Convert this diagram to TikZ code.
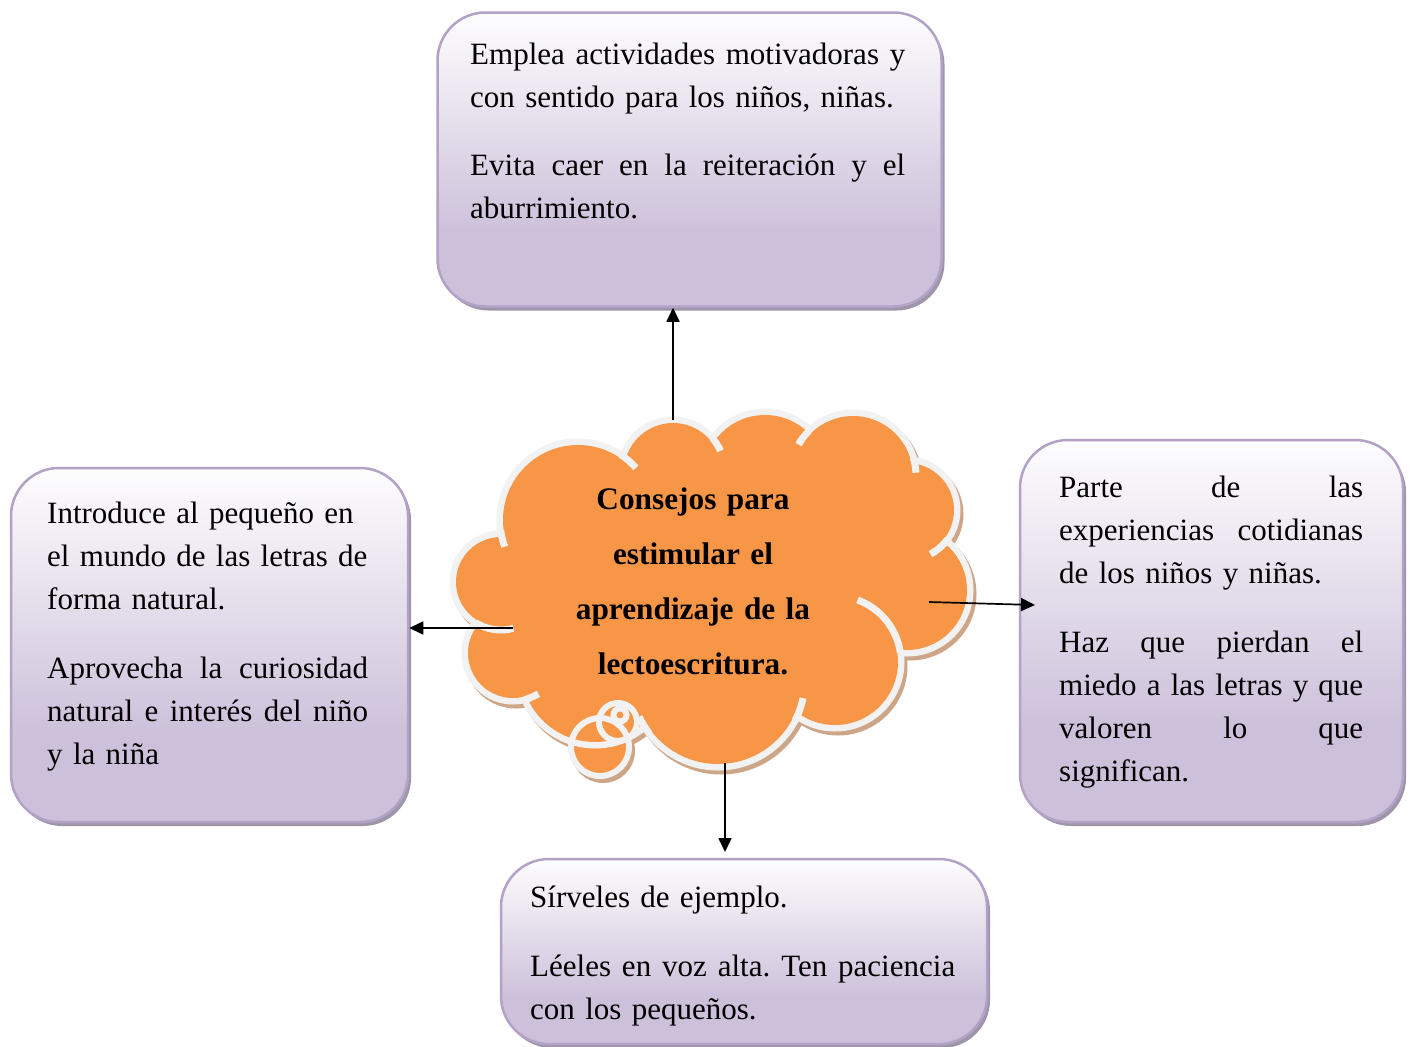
\documentclass[tikz,border=0pt]{standalone}
\usepackage{fontspec}
\setmainfont{Liberation Serif}
\usetikzlibrary{arrows.meta,shadows}
\definecolor{lav}{HTML}{CCC0DA}
\colorlet{boxtop}{white!97!lav}
\definecolor{boxline}{HTML}{B3A2C7}
\definecolor{boxshadow}{RGB}{158,150,168}
\definecolor{cloudfill}{HTML}{F79646}
\definecolor{cloudline}{HTML}{F2F2F2}
\definecolor{cloudshadow}{RGB}{205,166,136}
\pgfdeclareverticalshading{boxgrad}{100bp}{color(0bp)=(lav); color(25bp)=(lav); color(37bp)=(lav); color(75bp)=(boxtop); color(100bp)=(boxtop)}
\newcommand\jst[2]{\leavevmode\hbox to #1{#2}}
\newcommand\jw{\hskip 0.25em plus 1fil minus 0.08em\relax}
\newcommand\cloudlobes[1]{\path[#1]
  (501,582) circle[radius=45]
  (578,520) circle[radius=75]
  (673,472) circle[radius=49]
  (765,477) circle[radius=62]
  (853,476) circle[radius=60]
  (907,510) circle[radius=47]
  (907,590) circle[radius=60]
  (835,662) circle[radius=63]
  (718,680) circle[radius=84]
  (595,668) circle[radius=74]
  (513,653) circle[radius=45]
  (710,590) ellipse[x radius=180, y radius=130];}
\newcommand\tck[4]{\draw[cloudtick] (#1) ++(#2:#4) arc[start angle=#2, end angle=#3, radius=#4];}
\begin{document}
\begin{tikzpicture}[x=1pt, y=-1pt,
  boxnode/.style={rectangle, rounded corners=48pt, draw=boxline, line width=2.5pt,
    shade, shading=boxgrad, inner sep=0pt,
    drop shadow={shadow xshift=3pt, shadow yshift=-4pt, fill=boxshadow, opacity=1}},
  bodytext/.style={anchor=base west, inner sep=0pt, align=left,
    font=\frenchspacing\fontsize{31}{43}\selectfont},
  titletext/.style={anchor=base, inner sep=0pt, align=center, text width=330pt,
    font=\bfseries\fontsize{31.3}{55}\selectfont},
  arr/.style={line width=1.7pt, -{Triangle[length=14pt,width=13pt]}},
  cloudtick/.style={draw=cloudline, line width=7pt},
  bubblering/.style={draw=cloudline, line width=6pt}]
\useasboundingbox (0,0) rectangle (1414,1047);
\fill[white] (0,0) rectangle (1414,1047);

% boxes
\node[boxnode, minimum width=504pt, minimum height=294pt] (topbox) at (689.5,159.5) {};
\node[boxnode, minimum width=397pt, minimum height=354pt] (leftbox) at (209.5,645) {};
\node[boxnode, minimum width=383pt, minimum height=382pt] (rightbox) at (1211.5,631) {};
\node[boxnode, minimum width=486pt, minimum height=185pt] (botbox) at (744,951.5) {};

% cloud shadow
\begin{scope}[shift={(3,4)}]
  \cloudlobes{fill=cloudshadow, draw=cloudshadow, line width=13pt}
  \path[fill=cloudshadow, draw=cloudshadow, line width=6pt] (600,747) circle[radius=29];
\end{scope}
% bubble fill below the cloud outline
\path[fill=cloudfill] (600,747) circle[radius=29];
% cloud body
\cloudlobes{draw=cloudline, line width=13pt}
\cloudlobes{fill=cloudfill}
% inner arcs
\tck{578,520}{160}{172}{78}
\tck{578,520}{303}{318}{78}
\tck{673,472}{320}{336}{52}
\tck{853,476}{226}{210}{63}
\tck{853,476}{343}{357}{63}
\tck{907,510}{36}{62}{50}
\tck{835,662}{290}{352}{66}
\tck{718,680}{28}{12}{87}
\tck{718,680}{142}{155}{87}
\tck{513,653}{76}{58}{48}
\tck{501,582}{122}{75}{48}
% thought bubble rings
\path[bubblering] (600,747) circle[radius=29];
\path[bubblering] (618,722) circle[radius=19];
\path[bubblering] (620,715) circle[radius=6.5];

\node[titletext] (title) at (693,509) {Consejos para\\estimular el\\aprendizaje de la\\lectoescritura.};

% connectors
\coordinate (cT) at (673,420);
\coordinate (cL) at (513,628);
\coordinate (cR) at (929,602);
\coordinate (rTip) at (1035,605);
\coordinate (cB) at (725,763);
\coordinate (bTip) at (725,852);
\draw[arr] (cT) -- (cT |- topbox.south);
\draw[arr] (cL) -- (cL -| leftbox.east);
\draw[arr] (cR) -- (rTip);
\draw[arr] (cB) -- (bTip);

% texts
\node[bodytext, text width=435pt] (toptext) at (470,64) {%
\jst{435pt}{Emplea\jw actividades\jw motivadoras\jw y}\\
con sentido para los niños, niñas.\\[25pt]
\jst{435pt}{Evita\jw caer\jw en\jw la\jw reiteración\jw y\jw el}\\
aburrimiento.};
\node[bodytext, text width=321pt] (lefttext) at (47,523) {%
Introduce al pequeño en\\
el mundo de las letras de\\
forma natural.\\[26pt]
\jst{321pt}{Aprovecha\jw la\jw curiosidad}\\
\jst{321pt}{natural\jw e\jw interés\jw del\jw niño}\\
y la niña};
\node[bodytext, text width=304pt] (righttext) at (1059,497) {%
\jst{304pt}{Parte\jw de\jw las}\\
\jst{304pt}{experiencias\jw cotidianas}\\
de los niños y niñas.\\[26pt]
\jst{304pt}{Haz\jw que\jw pierdan\jw el}\\
\jst{304pt}{miedo\jw a\jw las\jw letras\jw y\jw que}\\
\jst{304pt}{valoren\jw lo\jw que}\\
significan.};
\node[bodytext, text width=425pt] (bottext) at (530,907) {%
Sírveles de ejemplo.\\[26pt]
\jst{425pt}{Léeles\jw en\jw voz\jw alta.\jw Ten\jw paciencia}\\
con los pequeños.};
\end{tikzpicture}
\end{document}
